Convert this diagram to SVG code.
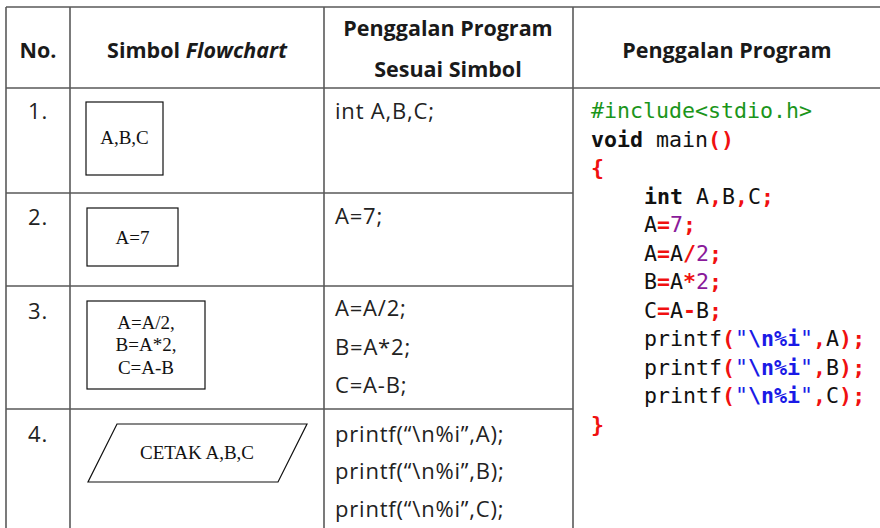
<svg xmlns="http://www.w3.org/2000/svg" width="880" height="528" viewBox="0 0 880 528">
<style>
.grid{stroke:#5a5a5a;stroke-width:1.6;fill:none}
.hd{font-family:"Open Sans","Liberation Sans",sans-serif;font-weight:bold;font-size:21.5px;fill:#1a1a1a}
.tx{font-family:"Open Sans","Liberation Sans",sans-serif;font-size:22px;letter-spacing:0.8px;fill:#222}
.sh{fill:#fff;stroke:#111;stroke-width:1.2}
.st{font-family:"Liberation Serif","Times New Roman",serif;font-size:19px;fill:#111}
.cd{font-family:"DejaVu Sans Mono","Liberation Mono",monospace;font-size:21.6px;fill:#111}
.g{fill:#1b951b}
.b{font-weight:bold}
.r{fill:#f01010;font-weight:bold}
.p{fill:#8a1a9a}
.bl{fill:#1a1ae6}
</style>
<rect width="880" height="528" fill="#fff"/>
<g id="table-grid">
<path class="grid" d="M6,7H880 M6,88H880 M6,193H573 M6,286H573 M6,409H573 M6,7V528 M70,7V528 M324,7V528 M573,7V528"/>
</g>
<g id="header">
<text class="hd" x="38" y="58" text-anchor="middle">No.</text>
<text class="hd" x="197" y="58" text-anchor="middle">Simbol <tspan font-style="italic">Flowchart</tspan></text>
<text class="hd" x="448" y="36" text-anchor="middle">Penggalan Program</text>
<text class="hd" x="448" y="77" text-anchor="middle">Sesuai Simbol</text>
<text class="hd" x="727" y="58" text-anchor="middle">Penggalan Program</text>
</g>
<g id="row1">
<text class="tx" x="38" y="119" text-anchor="middle">1.</text>
<rect class="sh" x="86" y="102" width="77" height="73"/>
<text class="st" x="124.5" y="144" text-anchor="middle" font-size="15">A,B,C</text>
<text class="tx" x="335" y="119">int A,B,C;</text>
</g>
<g id="row2">
<text class="tx" x="38" y="225" text-anchor="middle">2.</text>
<rect class="sh" x="87" y="208" width="91" height="58"/>
<text class="st" x="132.5" y="244" text-anchor="middle">A=7</text>
<text class="tx" x="335" y="224">A=7;</text>
</g>
<g id="row3">
<text class="tx" x="38" y="319" text-anchor="middle">3.</text>
<rect class="sh" x="87" y="301" width="118" height="88"/>
<text class="st" x="146" y="329" text-anchor="middle">A=A/2,</text>
<text class="st" x="146" y="351" text-anchor="middle">B=A*2,</text>
<text class="st" x="146" y="374" text-anchor="middle">C=A-B</text>
<text class="tx" x="335" y="316">A=A/2;</text>
<text class="tx" x="335" y="355">B=A*2;</text>
<text class="tx" x="335" y="393">C=A-B;</text>
</g>
<g id="row4">
<text class="tx" x="38" y="442" text-anchor="middle">4.</text>
<polygon class="sh" points="117,424 307,424 278,482 88,482"/>
<text class="st" x="197" y="459" text-anchor="middle">CETAK A,B,C</text>
<text class="tx" x="335" y="442">printf(“\n%i”,A);</text>
<text class="tx" x="335" y="479">printf(“\n%i”,B);</text>
<text class="tx" x="335" y="517">printf(“\n%i”,C);</text>
</g>
<g id="program-code" class="cd" xml:space="preserve">
<text x="591" y="118" class="g">#include&lt;stdio.h&gt;</text>
<text x="591" y="146.5"><tspan class="b">void</tspan> main<tspan class="r" font-weight="normal">()</tspan></text>
<text x="591" y="175"><tspan class="r">{</tspan></text>
<text x="644" y="203.5"><tspan class="b">int</tspan> A<tspan class="r">,</tspan>B<tspan class="r">,</tspan>C<tspan class="r">;</tspan></text>
<text x="644" y="232">A<tspan class="r">=</tspan><tspan class="p">7</tspan><tspan class="r">;</tspan></text>
<text x="644" y="260.5">A<tspan class="r">=</tspan>A<tspan class="r">/</tspan><tspan class="p">2</tspan><tspan class="r">;</tspan></text>
<text x="644" y="289">B<tspan class="r">=</tspan>A<tspan class="r">*</tspan><tspan class="p">2</tspan><tspan class="r">;</tspan></text>
<text x="644" y="317.5">C<tspan class="r">=</tspan>A<tspan class="r">-</tspan>B<tspan class="r">;</tspan></text>
<text x="644" y="346">printf<tspan class="r" font-weight="normal">(</tspan><tspan class="bl">"<tspan class="b">\n%i</tspan>"</tspan><tspan class="r">,</tspan>A<tspan class="r" font-weight="normal">)</tspan><tspan class="r">;</tspan></text>
<text x="644" y="374.5">printf<tspan class="r" font-weight="normal">(</tspan><tspan class="bl">"<tspan class="b">\n%i</tspan>"</tspan><tspan class="r">,</tspan>B<tspan class="r" font-weight="normal">)</tspan><tspan class="r">;</tspan></text>
<text x="644" y="403">printf<tspan class="r" font-weight="normal">(</tspan><tspan class="bl">"<tspan class="b">\n%i</tspan>"</tspan><tspan class="r">,</tspan>C<tspan class="r" font-weight="normal">)</tspan><tspan class="r">;</tspan></text>
<text x="591" y="431.5"><tspan class="r">}</tspan></text>
</g>
</svg>
